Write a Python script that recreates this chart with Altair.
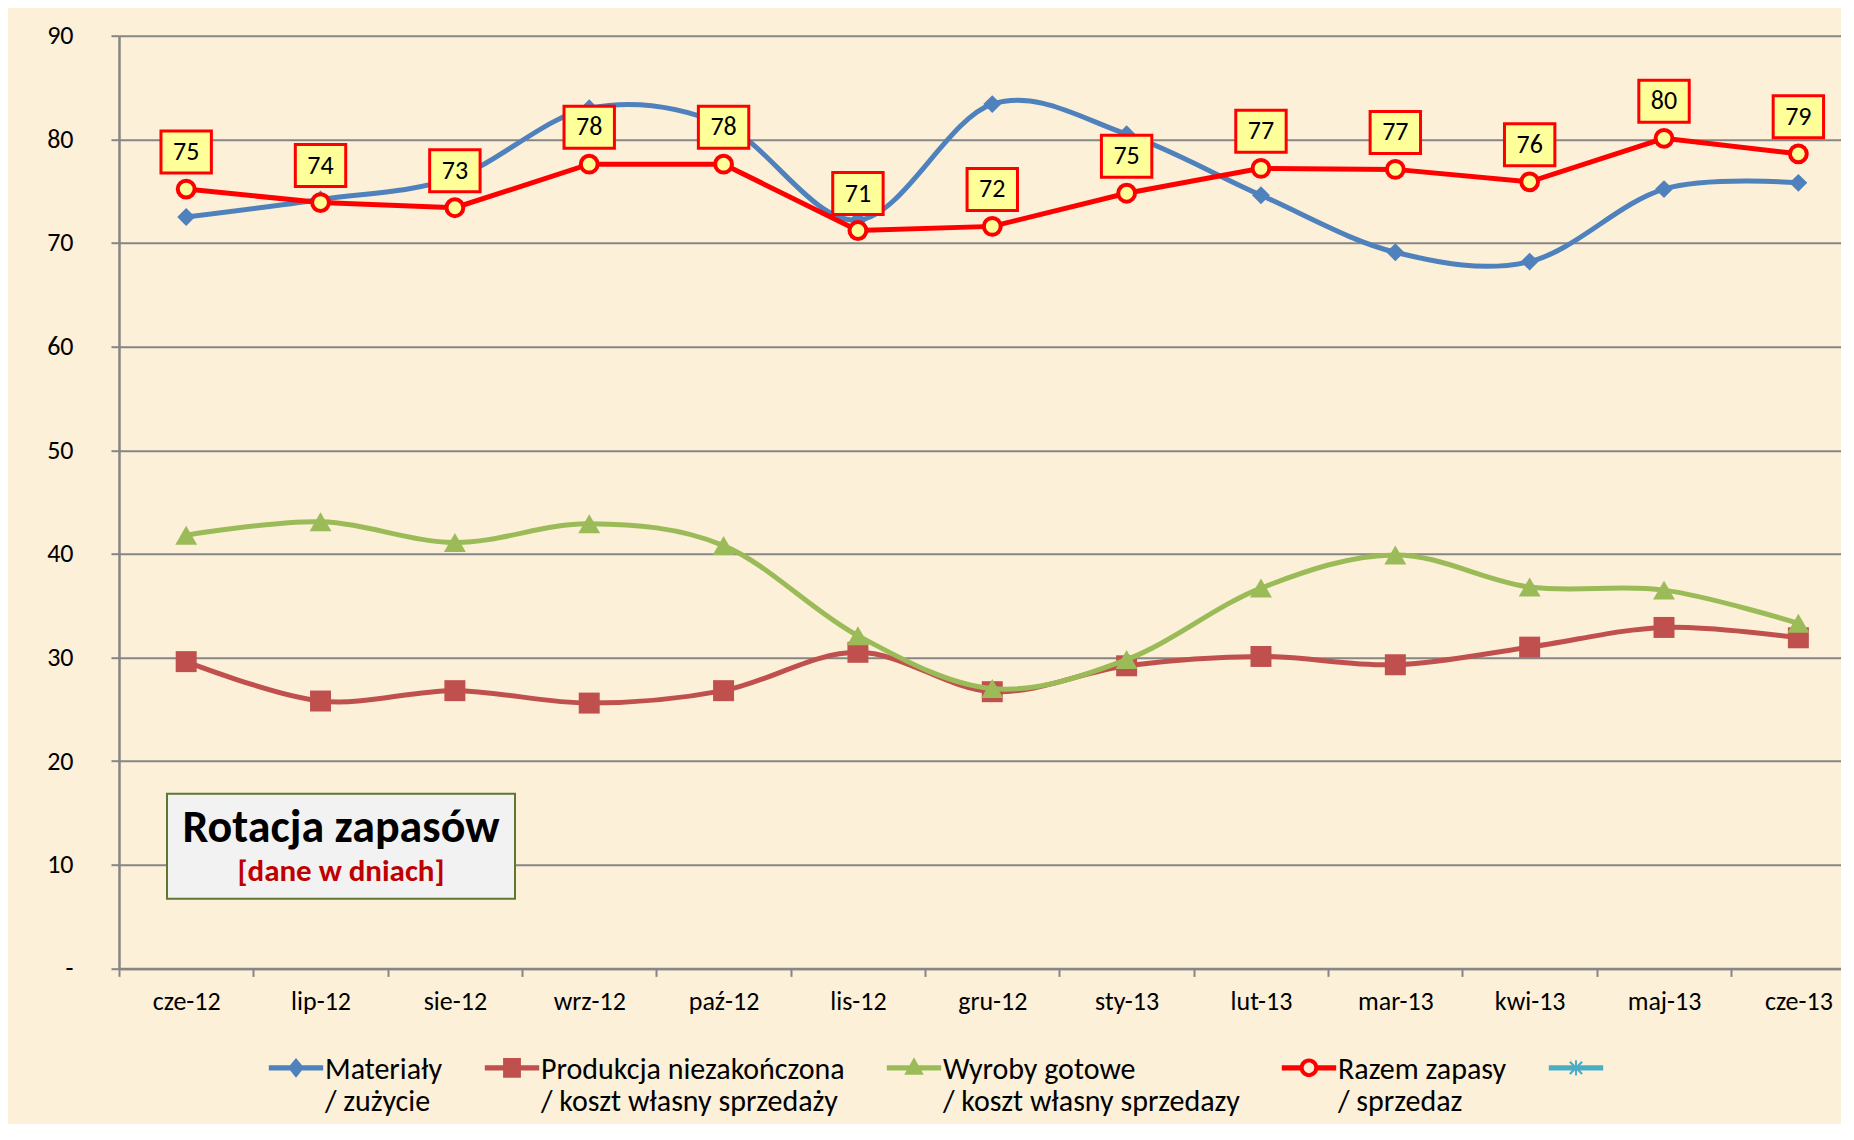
import altair as alt
import pandas as pd

# ---------------- data ----------------
months = ["cze-12", "lip-12", "sie-12", "wrz-12", "paź-12", "lis-12", "gru-12",
          "sty-13", "lut-13", "mar-13", "kwi-13", "maj-13", "cze-13"]
materialy = [72.5, 74.2, 76.3, 83.0, 81.4, 72.2, 83.4, 80.5, 74.6, 69.1, 68.2, 75.2, 75.8]
produkcja = [29.6, 25.8, 26.8, 25.6, 26.8, 30.5, 26.7, 29.2, 30.1, 29.3, 31.0, 32.9, 31.9]
wyroby = [41.8, 43.1, 41.1, 42.9, 40.8, 32.1, 27.0, 29.8, 36.7, 39.9, 36.8, 36.5, 33.3]
razem = [75.2, 73.9, 73.4, 77.6, 77.6, 71.2, 71.6, 74.8, 77.2, 77.1, 75.9, 80.1, 78.6]

series_names = ["Materiały|/ zużycie",
                "Produkcja niezakończona|/ koszt własny sprzedaży",
                "Wyroby gotowe|/ koszt własny sprzedazy",
                "Razem zapasy|/ sprzedaz",
                " | "]
series_colors = ["#4F81BD", "#C0504D", "#9BBB59", "#FF0000", "#4BACC6"]
y_ticks = [0, 10, 20, 30, 40, 50, 60, 70, 80, 90]
title_main = "Rotacja zapasów"
title_sub = "[dane w dniach]"

FONT = "Carlito, Lato, sans-serif"
NB = "\u00a0"

# ---------------- legend symbol paths (line + marker) ----------------
SH = 1.55  # vertical shift of the symbol (units)


def poly(pts):
    return "M" + "L".join(f"{x:.3f},{y + SH:.3f}" for x, y in pts) + "Z"


def circ(r, cw=True):
    s = 1 if cw else 0
    return (f"M{-r:.3f},{SH:.3f}A{r},{r} 0 1,{s} {r:.3f},{SH:.3f}"
            f"A{r},{r} 0 1,{s} {-r:.3f},{SH:.3f}Z")


bar = poly([(-3.2, -0.3), (3.2, -0.3), (3.2, 0.3), (-3.2, 0.3)])
p_diamond = bar + poly([(0, -1.15), (0.95, 0), (0, 1.15), (-0.95, 0)])
p_square = bar + poly([(-1.05, -1.15), (1.05, -1.15), (1.05, 1.15), (-1.05, 1.15)])
p_triangle = bar + poly([(0, -1.25), (1.15, 0.8), (-1.15, 0.8)])
p_ring = (poly([(-3.2, -0.3), (-1.0, -0.3), (-1.0, 0.3), (-3.2, 0.3)])
          + poly([(1.0, -0.3), (3.2, -0.3), (3.2, 0.3), (1.0, 0.3)])
          + circ(1.1, True) + circ(0.62, False))
t = 0.09
p_star = (bar
          + poly([(-0.12, -0.9), (0.12, -0.9), (0.12, 0.9), (-0.12, 0.9)])
          + poly([(-0.72 + t, -0.72 - t), (0.72 + t, 0.72 - t), (0.72 - t, 0.72 + t), (-0.72 - t, -0.72 + t)])
          + poly([(0.72 - t, -0.72 - t), (0.72 + t, -0.72 + t), (-0.72 + t, 0.72 + t), (-0.72 - t, 0.72 - t)]))
legend_shapes = [p_diamond, p_square, p_triangle, p_ring, p_star]

# ---------------- scales / axes ----------------
BAND = 134.35
xscale = alt.Scale(domain=months, range=[0, BAND * len(months)], paddingInner=0, paddingOuter=0)
yscale = alt.Scale(domain=[0, 90], nice=False, zero=True)

xaxis = alt.Axis(title=None, labelFont=FONT, labelFontSize=26, labelColor="#000000",
                 labelAngle=0, labelPadding=12, tickBand="extent", tickSize=8,
                 tickColor="#868686", tickWidth=2, domainColor="#868686", domainWidth=2.5,
                 grid=False, labelOverlap=False)
yaxis = alt.Axis(title=None, values=y_ticks, labelFont=FONT, labelFontSize=26,
                 labelColor="#000000", labelPadding=38, tickSize=8, tickColor="#868686",
                 tickWidth=2, domainColor="#868686", domainWidth=2.5, grid=True,
                 gridColor="#868686", gridWidth=2,
                 labelExpr=f"datum.value == 0 ? '-{NB}{NB}' : datum.label")

X = alt.X("month:N", sort=months, scale=xscale, axis=xaxis)
Y = alt.Y("value:Q", scale=yscale, axis=yaxis)


def frame(vals):
    return pd.DataFrame({"month": months, "value": vals})


layers = []
smooth = [(materialy, series_colors[0], "diamond", 320),
          (produkcja, series_colors[1], "square", 440),
          (wyroby, series_colors[2], "triangle-up", 480)]
for vals, col, shp, sz in smooth:
    base = alt.Chart(frame(vals)).encode(x=X, y=Y)
    layers.append(base.mark_line(color=col, strokeWidth=5, interpolate="cardinal", tension=0))
    layers.append(base.mark_point(shape=shp, size=sz, filled=True, color=col, opacity=1))

rbase = alt.Chart(frame(razem)).encode(x=X, y=Y)
layers.append(rbase.mark_line(color=series_colors[3], strokeWidth=5))
layers.append(rbase.mark_point(shape="circle", size=283, filled=True, fill="#FFFF99",
                               stroke="#FF0000", strokeWidth=4, opacity=1))
layers.append(rbase.mark_point(shape="M-1.2,-1H1.2V1H-1.2Z", size=1764, filled=True,
                               fill="#FFFF99", stroke="#FF0000", strokeWidth=3,
                               opacity=1, yOffset=-37))
layers.append(rbase.mark_text(font=FONT, fontSize=26, color="#000000", dy=-37,
                              baseline="middle", align="center")
              .encode(text=alt.Text("value:Q", format=".0f")))

# title box
tdf = pd.DataFrame({"t": [title_main]})
layers.append(alt.Chart(tdf).mark_rect(fill="#F2F2F2", stroke="#5F7530", strokeWidth=2).encode(
    x=alt.value(48), x2=alt.value(396), y=alt.value(758), y2=alt.value(863)))
layers.append(alt.Chart(tdf).mark_text(font=FONT, fontSize=46, fontWeight="bold",
                                       color="#000000", align="center", baseline="alphabetic").encode(
    x=alt.value(222), y=alt.value(806), text=alt.value(title_main)))
layers.append(alt.Chart(tdf).mark_text(font=FONT, fontSize=31, fontWeight="bold",
                                       color="#C00000", align="center", baseline="alphabetic").encode(
    x=alt.value(222), y=alt.value(845), text=alt.value(title_sub)))

# legend layer (no visible marks)
ldf = pd.DataFrame({"series": series_names, "v": [0] * len(series_names)})
legend = alt.Legend(title=None, orient="none", legendX=162, legendY=1004, direction="horizontal",
                    columns=5, symbolSize=289, symbolStrokeWidth=0, symbolOpacity=1,
                    labelFont=FONT, labelFontSize=30, labelColor="#000000", labelBaseline="top",
                    labelOffset=14, columnPadding=41, labelLimit=600, padding=0,
                    labelExpr="split(datum.label, '|')")
layers.append(alt.Chart(ldf).transform_filter("datum.v > 1").mark_point(filled=True, opacity=1).encode(
    color=alt.Color("series:N", scale=alt.Scale(domain=series_names, range=series_colors), legend=legend),
    shape=alt.Shape("series:N", scale=alt.Scale(domain=series_names, range=legend_shapes), legend=legend),
))

chart = alt.layer(*layers).properties(
    width=1722, height=932.7,
    autosize=alt.AutoSizeParams(type="none"),
    padding={"left": 111, "top": 27.7, "right": 0, "bottom": 156},
    background="#FCF0D8",
).configure_view(fill="#EEECE1", stroke="transparent")

chart.save("out.html", embed_options={"renderer": "svg", "actions": False})
